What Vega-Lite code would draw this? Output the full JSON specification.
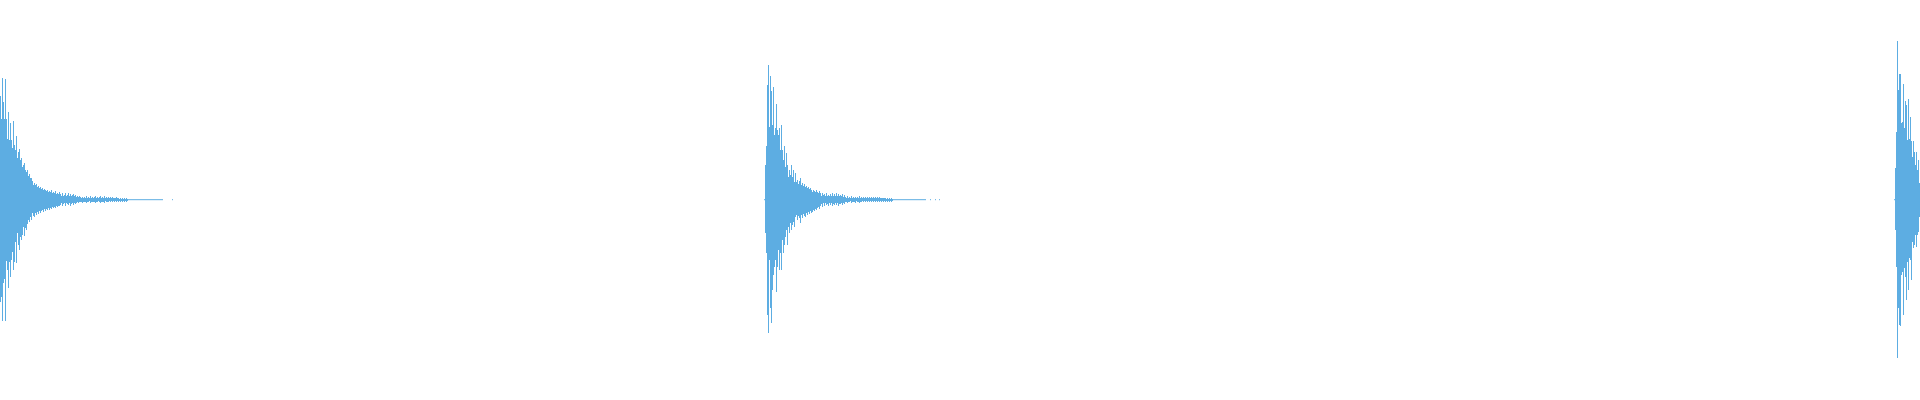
{
  "$schema": "https://vega.github.io/schema/vega-lite/v6.json",
  "width": 1920,
  "height": 400,
  "autosize": {"type": "fit", "contains": "padding"},
  "padding": 0,
  "background": "white",
  "view": {"stroke": null},
  "data": {"values": [
    {"s":0,"lo":-51,"hi":52},{"s":1,"lo":-48.5,"hi":40.5},{"s":2,"lo":-60.5,"hi":61},{"s":3,"lo":-41.5,"hi":49},{"s":4,"lo":-39.5,"hi":40.5},
    {"s":5,"lo":-60.5,"hi":60.5},{"s":6,"lo":-30.5,"hi":40.5},{"s":7,"lo":-35,"hi":30.5},{"s":8,"lo":-44,"hi":44},{"s":9,"lo":-31,"hi":30},
    {"s":10,"lo":-38.5,"hi":38.5},{"s":11,"lo":-30,"hi":30},{"s":12,"lo":-26,"hi":26},{"s":13,"lo":-35,"hi":39.5},{"s":14,"lo":-31,"hi":27.5},
    {"s":15,"lo":-21,"hi":25},{"s":16,"lo":-31.5,"hi":32},{"s":17,"lo":-16.5,"hi":21},{"s":18,"lo":-22.5,"hi":24},{"s":19,"lo":-25,"hi":25.5},
    {"s":20,"lo":-18.5,"hi":20},{"s":21,"lo":-20,"hi":21},{"s":22,"lo":-17.5,"hi":16.5},{"s":23,"lo":-13.5,"hi":17.5},{"s":24,"lo":-18,"hi":18.5},
    {"s":25,"lo":-14,"hi":15},{"s":26,"lo":-15,"hi":14},{"s":27,"lo":-12,"hi":15},{"s":28,"lo":-10,"hi":12},{"s":29,"lo":-11,"hi":13},
    {"s":30,"lo":-8.5,"hi":11},{"s":31,"lo":-10,"hi":11},{"s":32,"lo":-6.5,"hi":9.5},{"s":33,"lo":-8,"hi":7.5},{"s":34,"lo":-8.5,"hi":8.5},
    {"s":35,"lo":-6.5,"hi":7.5},{"s":36,"lo":-7.5,"hi":8},{"s":37,"lo":-6,"hi":6.5},{"s":38,"lo":-7,"hi":7},{"s":39,"lo":-5.5,"hi":6},
    {"s":40,"lo":-6.5,"hi":6.5},{"s":41,"lo":-5.5,"hi":5.5},{"s":42,"lo":-5,"hi":6},{"s":43,"lo":-6,"hi":5},{"s":44,"lo":-4.5,"hi":5.5},
    {"s":45,"lo":-5.5,"hi":5},{"s":46,"lo":-4.5,"hi":4.5},{"s":47,"lo":-5,"hi":5},{"s":48,"lo":-4,"hi":4},{"s":49,"lo":-5,"hi":4.5},
    {"s":50,"lo":-4,"hi":4},{"s":51,"lo":-4.5,"hi":5},{"s":52,"lo":-3.5,"hi":3.5},{"s":53,"lo":-4,"hi":4},{"s":54,"lo":-3.5,"hi":3.5},
    {"s":55,"lo":-4,"hi":4.5},{"s":56,"lo":-3,"hi":3},{"s":57,"lo":-3.5,"hi":3.5},{"s":58,"lo":-3,"hi":3},{"s":59,"lo":-3,"hi":4},
    {"s":60,"lo":-2.5,"hi":3},{"s":61,"lo":-1.5,"hi":2},{"s":62,"lo":-3,"hi":3.5},{"s":63,"lo":-2,"hi":2},{"s":64,"lo":-1.5,"hi":2.5},
    {"s":65,"lo":-3,"hi":3.5},{"s":66,"lo":-1.5,"hi":2},{"s":67,"lo":-2,"hi":2.5},{"s":68,"lo":-2.5,"hi":3.5},{"s":69,"lo":-1.5,"hi":2},
    {"s":70,"lo":-3,"hi":3},{"s":71,"lo":-2,"hi":2},{"s":72,"lo":-1.5,"hi":2.5},{"s":73,"lo":-2.5,"hi":3},{"s":74,"lo":-1.5,"hi":2},
    {"s":75,"lo":-2,"hi":2.5},{"s":76,"lo":-1.5,"hi":1.5},{"s":77,"lo":-1,"hi":2},{"s":78,"lo":-1.5,"hi":1.5},{"s":79,"lo":-1,"hi":2},
    {"s":80,"lo":-1,"hi":1.5},{"s":81,"lo":-1,"hi":1},{"s":82,"lo":-1.5,"hi":1.5},{"s":83,"lo":-1,"hi":1},{"s":84,"lo":-1,"hi":1.5},
    {"s":85,"lo":-1,"hi":1},{"s":86,"lo":-1.5,"hi":2},{"s":87,"lo":-1,"hi":1},{"s":88,"lo":-1,"hi":1.5},{"s":89,"lo":-0.5,"hi":1},
    {"s":90,"lo":-1.5,"hi":2},{"s":91,"lo":-1,"hi":1},{"s":92,"lo":-1,"hi":1.5},{"s":93,"lo":-1,"hi":1},{"s":94,"lo":-1,"hi":1.5},
    {"s":95,"lo":-1.5,"hi":2},{"s":96,"lo":-1,"hi":1},{"s":97,"lo":-1,"hi":1.5},{"s":98,"lo":-0.5,"hi":1},{"s":99,"lo":-1,"hi":1.5},
    {"s":100,"lo":-1.5,"hi":2},{"s":101,"lo":-1,"hi":1},{"s":102,"lo":-1,"hi":1.5},{"s":103,"lo":-1,"hi":1},{"s":104,"lo":-1.5,"hi":2},
    {"s":105,"lo":-0.5,"hi":1},{"s":106,"lo":-1,"hi":1.5},{"s":107,"lo":-1,"hi":1},{"s":108,"lo":-1,"hi":1.5},{"s":109,"lo":-0.5,"hi":1},
    {"s":110,"lo":-1,"hi":1.5},{"s":111,"lo":-0.5,"hi":1},{"s":112,"lo":-1,"hi":1.5},{"s":113,"lo":-0.5,"hi":1},{"s":114,"lo":-1,"hi":1},
    {"s":115,"lo":-0.5,"hi":1},{"s":116,"lo":-1,"hi":1.5},{"s":117,"lo":-0.5,"hi":1},{"s":118,"lo":-1,"hi":1},{"s":119,"lo":-0.5,"hi":0.5},
    {"s":120,"lo":-1,"hi":1},{"s":121,"lo":-0.5,"hi":0.5},{"s":122,"lo":-1,"hi":1},{"s":123,"lo":-0.5,"hi":0.5},{"s":124,"lo":-1,"hi":1},
    {"s":125,"lo":-0.5,"hi":0.5},{"s":126,"lo":-1,"hi":1},{"s":127,"lo":-0.5,"hi":0.5},
    {"s":128,"lo":-0.1,"hi":0.4},{"s":129,"lo":-0.1,"hi":0.4},{"s":130,"lo":-0.1,"hi":0.4},{"s":131,"lo":-0.1,"hi":0.4},{"s":132,"lo":-0.1,"hi":0.4},
    {"s":133,"lo":-0.1,"hi":0.4},{"s":134,"lo":-0.1,"hi":0.4},{"s":135,"lo":-0.1,"hi":0.4},{"s":136,"lo":-0.1,"hi":0.4},{"s":137,"lo":-0.1,"hi":0.4},
    {"s":138,"lo":-0.1,"hi":0.4},{"s":139,"lo":-0.1,"hi":0.4},{"s":140,"lo":-0.1,"hi":0.4},{"s":141,"lo":-0.1,"hi":0.4},{"s":142,"lo":-0.1,"hi":0.4},
    {"s":143,"lo":-0.1,"hi":0.4},{"s":144,"lo":-0.1,"hi":0.4},{"s":145,"lo":-0.1,"hi":0.4},{"s":146,"lo":-0.1,"hi":0.4},{"s":147,"lo":-0.1,"hi":0.4},
    {"s":148,"lo":-0.1,"hi":0.4},{"s":149,"lo":-0.1,"hi":0.4},{"s":150,"lo":-0.1,"hi":0.4},{"s":151,"lo":-0.1,"hi":0.4},{"s":152,"lo":-0.1,"hi":0.4},
    {"s":153,"lo":-0.1,"hi":0.4},{"s":154,"lo":-0.1,"hi":0.4},{"s":155,"lo":-0.1,"hi":0.4},{"s":156,"lo":-0.1,"hi":0.4},{"s":157,"lo":-0.1,"hi":0.4},
    {"s":158,"lo":-0.1,"hi":0.4},{"s":159,"lo":-0.1,"hi":0.4},{"s":160,"lo":-0.1,"hi":0.4},{"s":161,"lo":-0.1,"hi":0.4},{"s":162,"lo":-0.1,"hi":0.4},
    {"s":172,"lo":-0.1,"hi":0.4},

    {"s":764,"lo":-0.1,"hi":0.4},{"s":765,"lo":-16.5,"hi":17.5},{"s":766,"lo":-26.5,"hi":27},{"s":767,"lo":-57.5,"hi":57.5},{"s":768,"lo":-66.5,"hi":67.5},
    {"s":769,"lo":-30,"hi":36.5},{"s":770,"lo":-54,"hi":62},{"s":771,"lo":-61.5,"hi":54.5},{"s":772,"lo":-45,"hi":37.5},{"s":773,"lo":-37.5,"hi":56.5},
    {"s":774,"lo":-33.5,"hi":32.5},{"s":775,"lo":-30,"hi":36},{"s":776,"lo":-46,"hi":48},{"s":777,"lo":-33.5,"hi":35},{"s":778,"lo":-25,"hi":32.5},
    {"s":779,"lo":-35,"hi":36},{"s":780,"lo":-26.5,"hi":25},{"s":781,"lo":-35,"hi":37.5},{"s":782,"lo":-20,"hi":25},{"s":783,"lo":-26.5,"hi":20},
    {"s":784,"lo":-22.5,"hi":27},{"s":785,"lo":-18.5,"hi":16.5},{"s":786,"lo":-15,"hi":23.5},{"s":787,"lo":-22.5,"hi":17.5},{"s":788,"lo":-13.5,"hi":11.5},
    {"s":789,"lo":-16.5,"hi":15},{"s":790,"lo":-11.5,"hi":12.5},{"s":791,"lo":-15,"hi":17.5},{"s":792,"lo":-12.5,"hi":11.5},{"s":793,"lo":-11,"hi":15},
    {"s":794,"lo":-13.5,"hi":9},{"s":795,"lo":-8.5,"hi":13.5},{"s":796,"lo":-7.5,"hi":9},{"s":797,"lo":-10,"hi":10},{"s":798,"lo":-8,"hi":8},
    {"s":799,"lo":-9,"hi":9.5},{"s":800,"lo":-11.5,"hi":11},{"s":801,"lo":-7.5,"hi":7.5},{"s":802,"lo":-9,"hi":8.5},{"s":803,"lo":-7,"hi":7},
    {"s":804,"lo":-8,"hi":8},{"s":805,"lo":-8.5,"hi":6.5},{"s":806,"lo":-6.5,"hi":7},{"s":807,"lo":-7.5,"hi":6},{"s":808,"lo":-6,"hi":6.5},
    {"s":809,"lo":-7,"hi":5.5},{"s":810,"lo":-5.5,"hi":6},{"s":811,"lo":-6.5,"hi":5},{"s":812,"lo":-6,"hi":4},{"s":813,"lo":-5,"hi":5},
    {"s":814,"lo":-5.5,"hi":4.5},{"s":815,"lo":-4.5,"hi":4},{"s":816,"lo":-5,"hi":5},{"s":817,"lo":-4,"hi":4},{"s":818,"lo":-3.5,"hi":3.5},
    {"s":819,"lo":-4.5,"hi":4.5},{"s":820,"lo":-3,"hi":3.5},{"s":821,"lo":-2,"hi":2},{"s":822,"lo":-3.5,"hi":3.5},{"s":823,"lo":-1.5,"hi":2.5},
    {"s":824,"lo":-3,"hi":3},{"s":825,"lo":-1.5,"hi":2},{"s":826,"lo":-2.5,"hi":3.5},{"s":827,"lo":-2,"hi":2},{"s":828,"lo":-3,"hi":2.5},
    {"s":829,"lo":-1.5,"hi":2},{"s":830,"lo":-2.5,"hi":3},{"s":831,"lo":-1.5,"hi":2},{"s":832,"lo":-3,"hi":3.5},{"s":833,"lo":-2,"hi":2},
    {"s":834,"lo":-2.5,"hi":3},{"s":835,"lo":-1.5,"hi":2},{"s":836,"lo":-2.5,"hi":3.5},{"s":837,"lo":-1.5,"hi":2},{"s":838,"lo":-3,"hi":3},
    {"s":839,"lo":-2,"hi":2},{"s":840,"lo":-2,"hi":2.5},{"s":841,"lo":-1.5,"hi":2},{"s":842,"lo":-2.5,"hi":3},{"s":843,"lo":-1.5,"hi":1.5},
    {"s":844,"lo":-2,"hi":2.5},{"s":845,"lo":-1,"hi":1.5},{"s":846,"lo":-1,"hi":1},{"s":847,"lo":-1.5,"hi":2},{"s":848,"lo":-1,"hi":1},
    {"s":849,"lo":-1,"hi":1.5},{"s":850,"lo":-0.5,"hi":1},{"s":851,"lo":-1.5,"hi":2},{"s":852,"lo":-1,"hi":1},{"s":853,"lo":-1,"hi":1.5},
    {"s":854,"lo":-1,"hi":1},{"s":855,"lo":-1.5,"hi":1.5},{"s":856,"lo":-0.5,"hi":1},{"s":857,"lo":-1,"hi":1.5},{"s":858,"lo":-1,"hi":1},
    {"s":859,"lo":-1.5,"hi":2},{"s":860,"lo":-1,"hi":1},{"s":861,"lo":-1,"hi":1.5},{"s":862,"lo":-0.5,"hi":1},{"s":863,"lo":-1,"hi":1.5},
    {"s":864,"lo":-0.5,"hi":1},{"s":865,"lo":-1,"hi":1.5},{"s":866,"lo":-0.5,"hi":1},{"s":867,"lo":-1,"hi":1.5},{"s":868,"lo":-0.5,"hi":1},
    {"s":869,"lo":-1,"hi":1.5},{"s":870,"lo":-0.5,"hi":1},{"s":871,"lo":-1,"hi":1.5},{"s":872,"lo":-0.5,"hi":1},{"s":873,"lo":-1,"hi":1.5},
    {"s":874,"lo":-0.5,"hi":1},{"s":875,"lo":-1,"hi":1.5},{"s":876,"lo":-0.5,"hi":1},{"s":877,"lo":-1,"hi":1.5},{"s":878,"lo":-0.5,"hi":1},
    {"s":879,"lo":-1,"hi":1.5},{"s":880,"lo":-0.5,"hi":1},{"s":881,"lo":-1,"hi":1},{"s":882,"lo":-0.5,"hi":1},{"s":883,"lo":-1,"hi":1},
    {"s":884,"lo":-0.5,"hi":1},{"s":885,"lo":-1,"hi":1},{"s":886,"lo":-0.5,"hi":0.5},{"s":887,"lo":-1,"hi":1},{"s":888,"lo":-0.5,"hi":0.5},
    {"s":889,"lo":-1,"hi":1},{"s":890,"lo":-0.5,"hi":0.5},{"s":891,"lo":-1,"hi":1},{"s":892,"lo":-0.5,"hi":0.5},
    {"s":893,"lo":-0.1,"hi":0.4},{"s":894,"lo":-0.1,"hi":0.4},{"s":895,"lo":-0.1,"hi":0.4},{"s":896,"lo":-0.1,"hi":0.4},{"s":897,"lo":-0.1,"hi":0.4},
    {"s":898,"lo":-0.1,"hi":0.4},{"s":899,"lo":-0.1,"hi":0.4},{"s":900,"lo":-0.1,"hi":0.4},{"s":901,"lo":-0.1,"hi":0.4},{"s":902,"lo":-0.1,"hi":0.4},
    {"s":903,"lo":-0.1,"hi":0.4},{"s":904,"lo":-0.1,"hi":0.4},{"s":905,"lo":-0.1,"hi":0.4},{"s":906,"lo":-0.1,"hi":0.4},{"s":907,"lo":-0.1,"hi":0.4},
    {"s":908,"lo":-0.1,"hi":0.4},{"s":909,"lo":-0.1,"hi":0.4},{"s":910,"lo":-0.1,"hi":0.4},{"s":911,"lo":-0.1,"hi":0.4},{"s":912,"lo":-0.1,"hi":0.4},
    {"s":913,"lo":-0.1,"hi":0.4},{"s":914,"lo":-0.1,"hi":0.4},{"s":915,"lo":-0.1,"hi":0.4},{"s":916,"lo":-0.1,"hi":0.4},{"s":917,"lo":-0.1,"hi":0.4},
    {"s":918,"lo":-0.1,"hi":0.4},{"s":919,"lo":-0.1,"hi":0.4},{"s":920,"lo":-0.1,"hi":0.4},{"s":921,"lo":-0.1,"hi":0.4},{"s":922,"lo":-0.1,"hi":0.4},
    {"s":923,"lo":-0.1,"hi":0.4},{"s":924,"lo":-0.1,"hi":0.4},
    {"s":925,"lo":-0.1,"hi":0.4},{"s":930,"lo":-0.1,"hi":0.4},{"s":935,"lo":-0.1,"hi":0.4},{"s":939,"lo":-0.1,"hi":0.4},

    {"s":1894,"lo":-0.1,"hi":0.4},{"s":1895,"lo":-15,"hi":16},{"s":1896,"lo":-33.5,"hi":34},{"s":1897,"lo":-79,"hi":79.5},{"s":1898,"lo":-54,"hi":55},
    {"s":1899,"lo":-62.5,"hi":63},{"s":1900,"lo":-63,"hi":63},{"s":1901,"lo":-37.5,"hi":38.5},{"s":1902,"lo":-36,"hi":39},{"s":1903,"lo":-57.5,"hi":58},
    {"s":1904,"lo":-34,"hi":36},{"s":1905,"lo":-38.5,"hi":49.5},{"s":1906,"lo":-50,"hi":47.5},{"s":1907,"lo":-31,"hi":30},{"s":1908,"lo":-45,"hi":50.5},
    {"s":1909,"lo":-29,"hi":30.5},{"s":1910,"lo":-30,"hi":41.5},{"s":1911,"lo":-40,"hi":29.5},{"s":1912,"lo":-21,"hi":21.5},{"s":1913,"lo":-24,"hi":29.5},
    {"s":1914,"lo":-22.5,"hi":24},{"s":1915,"lo":-17.5,"hi":17.5},{"s":1916,"lo":-23.5,"hi":24},{"s":1917,"lo":-17.5,"hi":15},{"s":1918,"lo":-16,"hi":20},
    {"s":1919,"lo":-8.5,"hi":8.5}
  ]},
  "mark": {"type": "rule", "color": "#5DADE2", "strokeWidth": 1, "xOffset": 0.5},
  "encoding": {
    "x": {"field": "s", "type": "quantitative", "scale": {"domain": [0, 1920], "nice": false, "zero": false}, "axis": null},
    "y": {"field": "lo", "type": "quantitative", "scale": {"domain": [-100, 100], "nice": false}, "axis": null},
    "y2": {"field": "hi"}
  }
}
